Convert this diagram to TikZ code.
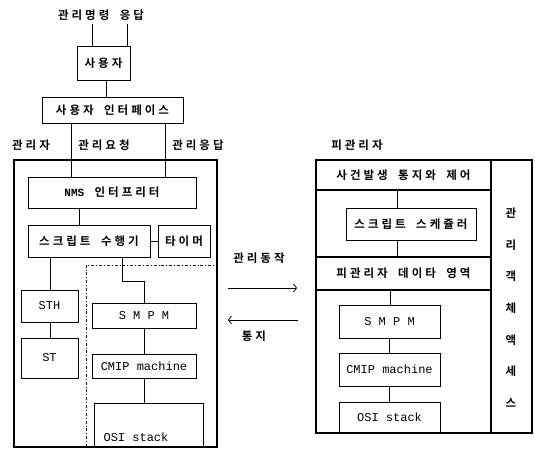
\documentclass[tikz,border=0pt]{standalone}
\usepackage{fontspec}
\usetikzlibrary{arrows.meta}
\newfontfamily\kr[WordSpace=4,BoldFont=* Bold]{Noto Sans CJK KR}
\newfontfamily\tw{Liberation Mono}
% open up the hangul a bit, as in the printed figure
\makeatletter
\XeTeXinterchartokenstate=1
\newXeTeXintercharclass\hangulclass
\count@="AC00
\loop\XeTeXcharclass\count@=\hangulclass \advance\count@ 1 \ifnum\count@<"D7A4 \repeat
\XeTeXinterchartoks\hangulclass\hangulclass={\kern3pt}
\makeatother

\begin{document}
\begin{tikzpicture}[x=1pt,y=-1pt,
    box/.style={draw,line width=0.8pt,inner sep=0pt},
    row/.style={draw,line width=1.4pt,inner sep=0pt},
    outer/.style={draw,line width=2.4pt},
    ko/.style={font=\kr\bfseries\fontsize{11.5}{14}\selectfont},
    en/.style={font=\tw\fontsize{12}{14}\selectfont},
    wire/.style={line width=0.8pt},
    tip/.style={-{Straight Barb[length=3pt,width=8pt]}}]
   \useasboundingbox (0,0) rectangle (535,452);
   % manager side
   \node[ko] (cmd) at (101,15) {관리명령 응답};
   \node[box,ko,minimum width=53pt,minimum height=34pt] (user) at (103.5,63) {사용자};
   \node[box,ko,minimum width=141pt,minimum height=26pt] (ui) at (112.5,110) {사용자 인터페이스};
   \node[ko] (mgr) at (31,145) {관리자};
   \node[ko] (req) at (104,145) {관리요청};
   \node[ko] (rsp) at (198,145) {관리응답};
   \node[box,ko,minimum width=168pt,minimum height=31pt] (nms) at (112,192.5) {{\tw\fontsize{11}{12}\selectfont NMS} 인터프리터};
   \node[box,ko,minimum width=122pt,minimum height=32pt] (exec) at (89,241) {스크립트 수행기};
   \node[box,ko,minimum width=52pt,minimum height=32pt] (timer) at (184,241) {타이머};
   \node[box,en,minimum width=57pt,minimum height=32pt] (sth) at (49.5,306) {STH};
   \node[box,en,minimum width=57pt,minimum height=40pt] (st) at (49.5,358) {ST};
   \node[box,en,minimum width=104pt,minimum height=25pt] (smpmL) at (144,315.5) {S M P M};
   \node[box,en,minimum width=104pt,minimum height=24pt] (cmipL) at (144,366) {CMIP machine};
   \node[box,minimum width=109pt,minimum height=44pt] (osiL) at (148.5,425) {};
   \node[en] (osiLt) at (136,437) {OSI stack};
   \draw[wire] (92,0 |- cmd.south) -- (92,0 |- user.north);
   \draw[wire] (127,0 |- cmd.south) -- (127,0 |- user.north);
   \draw[wire] (106,0 |- user.south) -- (106,0 |- ui.north);
   \draw[wire] (71,0 |- ui.south) -- (71,0 |- nms.north);
   \draw[wire] (165,0 |- ui.south) -- (165,0 |- nms.north);
   \draw[wire] (79,0 |- nms.south) -- (79,0 |- exec.north);
   \draw[wire] (exec.east) -- (timer.west);
   \draw[wire] (50,0 |- exec.south) -- (50,0 |- sth.north);
   \draw[wire] (50,0 |- sth.south) -- (50,0 |- st.north);
   \draw[wire] (122,0 |- exec.south) -- (122,281) -| (smpmL.north);
   \draw[wire] (smpmL.south) -- (cmipL.north);
   \draw[wire] (cmipL.south) -- (144,0 |- osiL.north);
   \draw[wire,dashdotted] (86,447) |- (216,265);
   \draw[outer] (14,160) rectangle (217,447);
   % between the two
   \node[ko] (act) at (259,258) {관리동작};
   \coordinate (a1) at (228,288);
   \coordinate (a2) at (297,288);
   \draw[wire,tip] (a1) -- (a2);
   \coordinate (n1) at (298,320);
   \coordinate (n2) at (228,320);
   \draw[wire,tip] (n1) -- (n2);
   \node[ko] (ntf) at (254,336) {통지};
   % agent side
   \node[ko] (agent) at (357,145) {피관리자};
   \node[row,ko,minimum width=175pt,minimum height=30pt] (event) at (403.5,175) {사건발생 통지와 제어};
   \node[box,ko,minimum width=130pt,minimum height=32pt] (sched) at (411,224) {스크립트 스케쥴러};
   \node[row,ko,minimum width=175pt,minimum height=33pt] (data) at (403.5,273.5) {피관리자 데이타 영역};
   \node[box,en,minimum width=101pt,minimum height=33pt] (smpmR) at (389.5,321.5) {S M P M};
   \node[box,en,minimum width=101pt,minimum height=33pt] (cmipR) at (389.5,369.5) {CMIP machine};
   \node[box,en,minimum width=101pt,minimum height=31pt] (osiR) at (389.5,417.5) {OSI stack};
   \draw[wire] (397,0 |- event.south) -- (397,0 |- sched.north);
   \draw[wire] (397,0 |- sched.south) -- (397,0 |- data.north);
   \draw[wire] (390,0 |- data.south) -- (390,0 |- smpmR.north);
   \draw[wire] (smpmR.south) -- (cmipR.north);
   \draw[wire] (cmipR.south) -- (osiR.north);
   \draw[line width=1.6pt] (491,160) -- (491,433);
   \draw[outer] (316,160) rectangle (532,433);
   \foreach \syl [count=\i from 0] in {관,리,객,체,액,세,스}
      \node[ko] (acc\i) at (511,{213+31.7*\i}) {\syl};
\end{tikzpicture}
\end{document}
